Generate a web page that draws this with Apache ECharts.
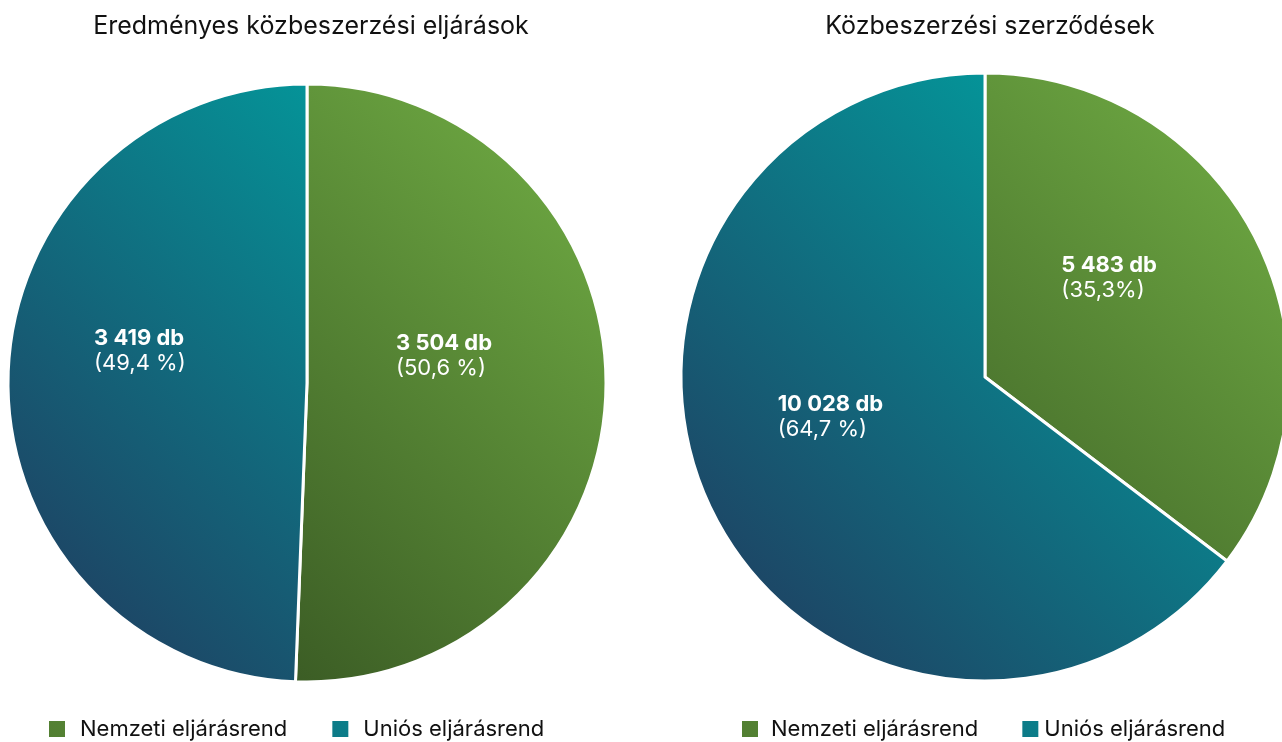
<!DOCTYPE html>
<html>
<head>
<meta charset="utf-8">
<script src="https://cdn.jsdelivr.net/npm/echarts@6/dist/echarts.min.js"></script>
<style>
  html, body { margin: 0; padding: 0; background: #fff; }
  #chart { width: 1282px; height: 742px; }
</style>
</head>
<body>
<div id="chart"></div>
<script>
var categories = ['Nemzeti eljárásrend', 'Uniós eljárásrend'];
var titles = ['Eredményes közbeszerzési eljárások', 'Közbeszerzési szerződések'];
var procCounts = [3504, 3419];
var procPercents = ['50,6 %', '49,4 %'];
var contractCounts = [5483, 10028];
var contractPercents = ['35,3%', '64,7 %'];

// diagonal gradient across the whole pie, light top-right -> dark bottom-left
function grad (cx, cy, r, light, dark) {
  var k = r * 0.75;
  return new echarts.graphic.LinearGradient(cx + k, cy - k, cx - k, cy + k, [
    { offset: 0, color: light },
    { offset: 1, color: dark }
  ], true);
}

function fmtNum (n) {
  return String(n).replace(/\B(?=(\d{3})+(?!\d))/g, ' ');
}

function buildData (counts, percents, cx, cy, r) {
  var cols = [grad(cx, cy, r, '#6aa340', '#335020'), grad(cx, cy, r, '#00a3a2', '#1d4565')];
  return categories.map(function (name, i) {
    return { name: name, value: counts[i], pct: percents[i], itemStyle: { color: cols[i] } };
  });
}

// label nudges per slice [dx, dy]
var nudge = [
  [[-6, -30], [-3, -29]],
  [[-5, -30], [-11, -29]]
];

var labelCfg = {
  show: true,
  position: 'inner',
  color: '#fff',
  formatter: function (p) {
    return '{a|' + fmtNum(p.value) + ' db}\n{b|(' + p.data.pct + ')}';
  },
  rich: {
    a: { fontFamily: 'Inter', fontWeight: 'bold', fontSize: 22, color: '#fff', lineHeight: 25, width: 115, align: 'left' },
    b: { fontFamily: 'Inter', fontSize: 22, color: '#fff', lineHeight: 25, width: 115, align: 'left' }
  }
};

var legendText = { fontFamily: 'Inter', fontSize: 22, color: '#111' };
var legendIcon = { borderWidth: 0, borderColor: 'transparent' };

var myChart = echarts.init(document.getElementById('chart'));
var option = {
  backgroundColor: '#fff',
  animation: false,
  title: [
    { text: titles[0], left: 306, top: 9, textAlign: 'center',
      textStyle: { fontFamily: 'Inter', fontWeight: 'normal', fontSize: 25, color: '#111' } },
    { text: titles[1], left: 985, top: 9, textAlign: 'center',
      textStyle: { fontFamily: 'Inter', fontWeight: 'normal', fontSize: 25, color: '#111' } }
  ],
  legend: [
    { data: [
        { name: categories[0], textStyle: { padding: [0, 0, 0, 10] } },
        { name: categories[1], textStyle: { padding: [0, 0, 0, 10] } }
      ],
      left: 44, top: 713, itemWidth: 16, itemHeight: 16, itemGap: 45,
      icon: 'rect', selectedMode: false, itemStyle: legendIcon, textStyle: legendText },
    { data: [
        { name: categories[0], textStyle: { padding: [0, 0, 0, 8] } },
        { name: categories[1], textStyle: { padding: [0, 0, 0, 1] } }
      ],
      left: 737, top: 713, itemWidth: 16, itemHeight: 16, itemGap: 44,
      icon: 'rect', selectedMode: false, itemStyle: legendIcon, textStyle: legendText }
  ],
  series: [
    {
      name: titles[0],
      type: 'pie',
      center: [307, 383],
      radius: [0, 299],
      startAngle: 90,
      clockwise: true,
      itemStyle: { borderColor: '#fff', borderWidth: 3 },
      label: labelCfg,
      labelLine: { show: false },
      labelLayout: function (p) { return { dx: nudge[0][p.dataIndex][0], dy: nudge[0][p.dataIndex][1] }; },
      emphasis: { disabled: true },
      data: buildData(procCounts, procPercents, 307, 383, 299)
    },
    {
      name: titles[1],
      type: 'pie',
      center: [985, 377],
      radius: [0, 304],
      startAngle: 90,
      clockwise: true,
      itemStyle: { borderColor: '#fff', borderWidth: 3 },
      label: labelCfg,
      labelLine: { show: false },
      labelLayout: function (p) { return { dx: nudge[1][p.dataIndex][0], dy: nudge[1][p.dataIndex][1] }; },
      emphasis: { disabled: true },
      data: buildData(contractCounts, contractPercents, 985, 377, 304)
    }
  ]
};
myChart.setOption(option);
</script>
</body>
</html>
